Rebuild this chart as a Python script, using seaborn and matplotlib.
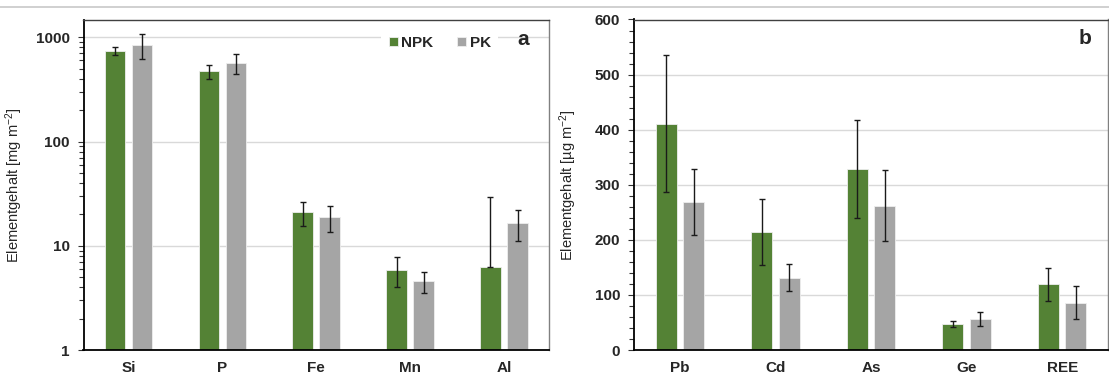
import matplotlib
matplotlib.use("Agg")
import matplotlib.pyplot as plt
import matplotlib.ticker as mticker
from matplotlib.lines import Line2D
import numpy as np
import pandas as pd
import seaborn as sns

# ---- data ----
elements_a = ["Si", "P", "Fe", "Mn", "Al"]
npk_a = [740, 470, 21, 5.9, 6.3]
pk_a = [845, 566, 18.9, 4.55, 16.6]
npk_a_err = [70, 70, 5.4, 1.9, 23]
pk_a_err = [225, 123, 5.4, 1.03, 5.6]

elements_b = ["Pb", "Cd", "As", "Ge", "REE"]
npk_b = [411, 214, 329, 47, 119]
pk_b = [268, 131, 262, 56, 86]
npk_b_err = [124, 60, 89, 5, 30]
pk_b_err = [60, 24.5, 64, 13, 30.5]

treatments = ["NPK", "PK"]
colors = ["#548235", "#A5A5A5"]

sns.set_style("white")
plt.rcParams["font.family"] = ["Liberation Sans", "DejaVu Sans"]
plt.rcParams["mathtext.fontset"] = "custom"
plt.rcParams["mathtext.rm"] = "Liberation Sans"
plt.rcParams["mathtext.it"] = "Liberation Sans"

TICK_FS = 11
fig = plt.figure(figsize=(11.09, 3.79), dpi=100)
ax_a = fig.add_axes([83.5 / 1109, 29 / 379, 465.5 / 1109, 330 / 379])
ax_b = fig.add_axes([634 / 1109, 29 / 379, 474 / 1109, 330.5 / 379])


def make_df(elements, npk, pk):
    return pd.DataFrame({
        "Element": elements * 2,
        "Behandlung": ["NPK"] * len(elements) + ["PK"] * len(elements),
        "Wert": list(npk) + list(pk),
    })


def draw(ax, elements, npk, pk, npk_err, pk_err, log=False):
    df = make_df(elements, npk, pk)
    sns.barplot(data=df, x="Element", y="Wert", hue="Behandlung",
                hue_order=treatments, palette=colors, order=elements,
                width=0.576, gap=0.236, errorbar=None, ax=ax,
                edgecolor="#eeeeee", linewidth=0.6, saturation=1, zorder=2)
    errs = [npk_err, pk_err]
    vals = [npk, pk]
    for cont, e, v in zip(ax.containers, errs, vals):
        xs = [b.get_x() + b.get_width() / 2 for b in cont]
        hs = [b.get_height() for b in cont]
        lower = [0 if (log and vi - ei <= 0) else ei for vi, ei in zip(v, e)]
        ax.errorbar(xs, hs, yerr=[lower, e], fmt="none", ecolor="#1a1a1a",
                    elinewidth=1.0, capsize=2.0, capthick=1.0, zorder=3)
    ax.set_xlabel("")
    ax.grid(axis="y", color="#d9d9d9", linewidth=1.0, zorder=0)
    ax.set_axisbelow(True)
    ax.tick_params(axis="x", length=0, pad=8, labelsize=TICK_FS)
    for lab in ax.get_xticklabels():
        lab.set_fontweight("bold")
    ax.tick_params(axis="y", which="both", direction="out", left=True,
                   width=0.8, color="#333333", pad=6, labelsize=TICK_FS)
    ax.tick_params(axis="y", which="major", length=4)
    ax.tick_params(axis="y", which="minor", length=3.5)
    for s in ["left", "bottom"]:
        ax.spines[s].set_color("#000000")
        ax.spines[s].set_linewidth(1.3)
    ax.spines["top"].set_color("#404040")
    ax.spines["top"].set_linewidth(1.0)
    ax.spines["right"].set_color("#808080")
    ax.spines["right"].set_linewidth(1.0)


draw(ax_a, elements_a, npk_a, pk_a, npk_a_err, pk_a_err, log=True)
ax_a.set_yscale("log")
ax_a.set_ylim(1, 1466)
ax_a.yaxis.set_major_locator(mticker.FixedLocator([1, 10, 100, 1000]))
ax_a.yaxis.set_major_formatter(mticker.FixedFormatter(["1", "10", "100", "1000"]))
ax_a.yaxis.set_minor_locator(mticker.LogLocator(base=10, subs=np.arange(2, 10)))
ax_a.yaxis.set_minor_formatter(mticker.NullFormatter())
for lab in ax_a.get_yticklabels():
    lab.set_fontweight("bold")
ax_a.set_ylabel("Elementgehalt [mg m$^{-2}$]", fontsize=10.5)
ax_a.yaxis.set_label_coords((25 - 83.5) / 465.5, 0.5)
ax_a.tick_params(axis="y", which="minor", left=True)

handles, labels = ax_a.get_legend_handles_labels()
ax_a.legend(handles, labels, loc="center", bbox_to_anchor=(0.765, 0.931), ncol=2,
            frameon=True, facecolor="white", edgecolor="none", framealpha=1,
            handlelength=0.6, handleheight=0.6, handletextpad=0.2,
            columnspacing=1.6, borderpad=0.5, borderaxespad=0,
            prop={"weight": "bold", "size": TICK_FS})
ax_a.text(0.944, 0.942, "a", transform=ax_a.transAxes, ha="center", va="center",
          fontsize=15, fontweight="bold", zorder=5)

draw(ax_b, elements_b, npk_b, pk_b, npk_b_err, pk_b_err)
ax_b.set_ylim(0, 600)
ax_b.yaxis.set_major_locator(mticker.MultipleLocator(100))
ax_b.yaxis.set_minor_locator(mticker.MultipleLocator(20))
for lab in ax_b.get_yticklabels():
    lab.set_fontweight("bold")
ax_b.set_ylabel("Elementgehalt [µg m$^{-2}$]", fontsize=10.5)
ax_b.yaxis.set_label_coords((579.3 - 634) / 474, 0.5)
if ax_b.get_legend() is not None:
    ax_b.get_legend().remove()
ax_b.text(0.951, 0.944, "b", transform=ax_b.transAxes, ha="center", va="center",
          fontsize=15, fontweight="bold", zorder=5)

fig.add_artist(Line2D([0, 1], [1 - 7.3 / 379, 1 - 7.3 / 379],
                      transform=fig.transFigure, color="#c8c8c8", linewidth=1.2))

fig.savefig("out.png", dpi=100)
